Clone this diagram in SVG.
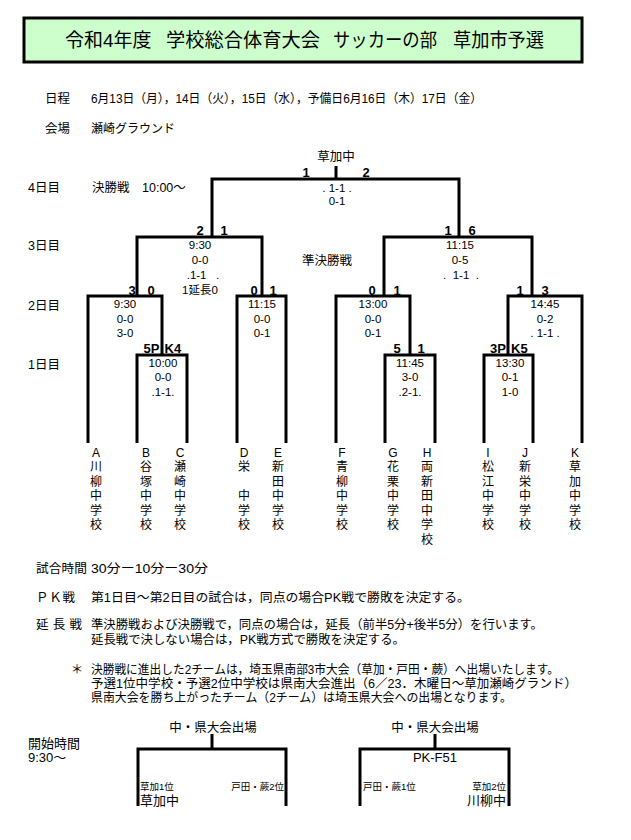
<svg xmlns="http://www.w3.org/2000/svg" width="631" height="840" viewBox="0 0 631 840">
<style>
text{font-family:"Liberation Sans","Noto Sans CJK JP",sans-serif;fill:#000}
.ttl{font-size:19px}
.lb{font-size:12.5px}
.sm{font-size:12px}
.s{font-size:11.5px;text-anchor:middle}
.b{font-size:13px;font-weight:bold;text-anchor:middle}
.be{font-size:13px;font-weight:bold;text-anchor:end}
.bs{font-size:13px;font-weight:bold;text-anchor:start}
.tm{font-size:12px;text-anchor:middle}
.ln{stroke:#000;stroke-width:3;fill:none;stroke-linejoin:miter}
.nt{font-size:12.5px}
.xs{font-size:9.5px}
.md{font-size:13px}
.c{text-anchor:middle}
.e{text-anchor:end}
</style>
<rect width="631" height="840" fill="#fff"/>

<g id="title">
<rect x="24" y="18" width="558" height="44" fill="#ccffcc" stroke="#000" stroke-width="3"/>
<text class="ttl" x="65" y="47">令和4年度</text>
<text class="ttl" x="166" y="47" textLength="154" lengthAdjust="spacingAndGlyphs">学校総合体育大会</text>
<text class="ttl" x="333" y="47" textLength="104" lengthAdjust="spacingAndGlyphs">サッカーの部</text>
<text class="ttl" x="453" y="47" textLength="91" lengthAdjust="spacingAndGlyphs">草加市予選</text>
</g>

<g id="schedule">
<text class="lb" x="45" y="102.5">日程</text>
<text class="lb" x="91" y="102.5" textLength="391" lengthAdjust="spacingAndGlyphs">6月13日（月），14日（火），15日（水），予備日6月16日（木）17日（金）</text>
<text class="lb" x="45" y="132.5">会場</text>
<text class="sm" x="91" y="132.5">瀬崎グラウンド</text>
</g>

<g id="day-labels">
<text class="lb" x="28" y="191.5">4日目</text>
<text class="lb" x="92" y="191.5">決勝戦</text>
<text class="lb" x="142" y="191.5">10:00〜</text>
<text class="lb" x="28" y="249.5">3日目</text>
<text class="lb" x="302" y="264.5">準決勝戦</text>
<text class="lb" x="28" y="309.5">2日目</text>
<text class="lb" x="28" y="368.5">1日目</text>
</g>

<g id="connectors">
<path class="ln" d="M336,166 V179"/>
<path class="ln" d="M212,237 V179 H459 V237"/>
<path class="ln" d="M137,296 V237 H262 V296"/>
<path class="ln" d="M384,296 V237 H532 V296"/>
<path class="ln" d="M88,443 V296 H162 V355"/>
<path class="ln" d="M237,443 V296 H286 V443"/>
<path class="ln" d="M336,443 V296 H410 V355"/>
<path class="ln" d="M508,355 V296 H582 V443"/>
<path class="ln" d="M137,443 V355 H187 V443"/>
<path class="ln" d="M385,443 V355 H435 V443"/>
<path class="ln" d="M484,443 V355 H533 V443"/>
<path class="ln" d="M212,734 V749"/>
<path class="ln" d="M138,806 V749 H286 V806"/>
<path class="ln" d="M435,734 V749"/>
<path class="ln" d="M360,806 V749 H509 V806"/>
</g>

<g id="champion">
<text class="lb c" x="336" y="160.5">草加中</text>
</g>

<g id="final">
<text class="b" x="306" y="176.5">1</text>
<text class="b" x="366" y="176.5">2</text>
<text class="s" x="337" y="192" xml:space="preserve">. 1-1 .</text>
<text class="s" x="337" y="205">0-1</text>
</g>

<g id="sf-left">
<text class="b" x="200" y="234.5">2</text>
<text class="b" x="224" y="234.5">1</text>
<text class="s" x="200" y="249">9:30</text>
<text class="s" x="200" y="264">0-0</text>
<text class="s" x="203" y="279" xml:space="preserve">.1-1   .</text>
<text class="s" x="200" y="294">1延長0</text>
</g>

<g id="sf-right">
<text class="b" x="448" y="234.5">1</text>
<text class="b" x="472" y="234.5">6</text>
<text class="s" x="460" y="249">11:15</text>
<text class="s" x="460" y="264">0-5</text>
<text class="s" x="461" y="279" xml:space="preserve">.  1-1  .</text>
</g>

<g id="qf1">
<text class="b" x="132" y="294.5">3</text>
<text class="b" x="151" y="294.5">0</text>
<text class="s" x="125" y="308">9:30</text>
<text class="s" x="125" y="323">0-0</text>
<text class="s" x="125" y="337">3-0</text>
</g>

<g id="qf2">
<text class="b" x="254" y="294.5">0</text>
<text class="b" x="273" y="294.5">1</text>
<text class="s" x="262" y="308">11:15</text>
<text class="s" x="262" y="323">0-0</text>
<text class="s" x="262" y="337">0-1</text>
</g>

<g id="qf3">
<text class="b" x="372" y="294.5">0</text>
<text class="b" x="397" y="294.5">1</text>
<text class="s" x="373" y="308">13:00</text>
<text class="s" x="373" y="323">0-0</text>
<text class="s" x="373" y="337">0-1</text>
</g>

<g id="qf4">
<text class="b" x="520" y="294.5">1</text>
<text class="b" x="545" y="294.5">3</text>
<text class="s" x="545" y="308">14:45</text>
<text class="s" x="545" y="323">0-2</text>
<text class="s" x="545" y="337" xml:space="preserve">. 1-1 .</text>
</g>

<g id="r1-bc">
<text class="be" x="159.5" y="352.5">5P</text>
<text class="bs" x="164.5" y="352.5">K4</text>
<text class="s" x="163" y="367">10:00</text>
<text class="s" x="163" y="381">0-0</text>
<text class="s" x="163" y="396">.1-1.</text>
</g>

<g id="r1-gh">
<text class="b" x="397" y="352.5">5</text>
<text class="b" x="421" y="352.5">1</text>
<text class="s" x="410" y="367">11:45</text>
<text class="s" x="410" y="381">3-0</text>
<text class="s" x="410" y="396">.2-1.</text>
</g>

<g id="r1-ij">
<text class="be" x="506" y="352.5">3P</text>
<text class="bs" x="511" y="352.5">K5</text>
<text class="s" x="510" y="367">13:30</text>
<text class="s" x="510" y="381">0-1</text>
<text class="s" x="510" y="396">1-0</text>
</g>

<g id="teams">
<g id="team-a"><text class="tm"><tspan x="96" y="456.5">A</tspan><tspan x="96" y="471">川</tspan><tspan x="96" y="485.5">柳</tspan><tspan x="96" y="500">中</tspan><tspan x="96" y="514.5">学</tspan><tspan x="96" y="529">校</tspan></text></g>
<g id="team-b"><text class="tm"><tspan x="146" y="456.5">B</tspan><tspan x="146" y="471">谷</tspan><tspan x="146" y="485.5">塚</tspan><tspan x="146" y="500">中</tspan><tspan x="146" y="514.5">学</tspan><tspan x="146" y="529">校</tspan></text></g>
<g id="team-c"><text class="tm"><tspan x="180" y="456.5">C</tspan><tspan x="180" y="471">瀬</tspan><tspan x="180" y="485.5">崎</tspan><tspan x="180" y="500">中</tspan><tspan x="180" y="514.5">学</tspan><tspan x="180" y="529">校</tspan></text></g>
<g id="team-d"><text class="tm"><tspan x="244" y="456.5">D</tspan><tspan x="244" y="471">栄</tspan><tspan x="244" y="500">中</tspan><tspan x="244" y="514.5">学</tspan><tspan x="244" y="529">校</tspan></text></g>
<g id="team-e"><text class="tm"><tspan x="278" y="456.5">E</tspan><tspan x="278" y="471">新</tspan><tspan x="278" y="485.5">田</tspan><tspan x="278" y="500">中</tspan><tspan x="278" y="514.5">学</tspan><tspan x="278" y="529">校</tspan></text></g>
<g id="team-f"><text class="tm"><tspan x="342" y="456.5">F</tspan><tspan x="342" y="471">青</tspan><tspan x="342" y="485.5">柳</tspan><tspan x="342" y="500">中</tspan><tspan x="342" y="514.5">学</tspan><tspan x="342" y="529">校</tspan></text></g>
<g id="team-g"><text class="tm"><tspan x="393" y="456.5">G</tspan><tspan x="393" y="471">花</tspan><tspan x="393" y="485.5">栗</tspan><tspan x="393" y="500">中</tspan><tspan x="393" y="514.5">学</tspan><tspan x="393" y="529">校</tspan></text></g>
<g id="team-h"><text class="tm"><tspan x="427" y="456.5">H</tspan><tspan x="427" y="471">両</tspan><tspan x="427" y="485.5">新</tspan><tspan x="427" y="500">田</tspan><tspan x="427" y="514.5">中</tspan><tspan x="427" y="529">学</tspan><tspan x="427" y="543.5">校</tspan></text></g>
<g id="team-i"><text class="tm"><tspan x="488" y="456.5">I</tspan><tspan x="488" y="471">松</tspan><tspan x="488" y="485.5">江</tspan><tspan x="488" y="500">中</tspan><tspan x="488" y="514.5">学</tspan><tspan x="488" y="529">校</tspan></text></g>
<g id="team-j"><text class="tm"><tspan x="525" y="456.5">J</tspan><tspan x="525" y="471">新</tspan><tspan x="525" y="485.5">栄</tspan><tspan x="525" y="500">中</tspan><tspan x="525" y="514.5">学</tspan><tspan x="525" y="529">校</tspan></text></g>
<g id="team-k"><text class="tm"><tspan x="575" y="456.5">K</tspan><tspan x="575" y="471">草</tspan><tspan x="575" y="485.5">加</tspan><tspan x="575" y="500">中</tspan><tspan x="575" y="514.5">学</tspan><tspan x="575" y="529">校</tspan></text></g>
</g>

<g id="notes">
<text class="nt" x="36" y="573" textLength="51" lengthAdjust="spacingAndGlyphs">試合時間</text>
<text class="nt" x="91" y="573" textLength="117" lengthAdjust="spacingAndGlyphs">30分ー10分ー30分</text>
<text class="nt" x="36" y="602" textLength="39" lengthAdjust="spacing" xml:space="preserve">Ｐ Ｋ 戦</text>
<text class="nt" x="91" y="602" textLength="379" lengthAdjust="spacingAndGlyphs">第1日目〜第2日目の試合は，同点の場合PK戦で勝敗を決定する。</text>
<text class="nt" x="36" y="628.5" textLength="46" lengthAdjust="spacing" xml:space="preserve">延 長 戦</text>
<text class="nt" x="91" y="628.5" textLength="452" lengthAdjust="spacingAndGlyphs">準決勝戦および決勝戦で，同点の場合は，延長（前半5分+後半5分）を行います。</text>
<text class="nt" x="91" y="643.5" textLength="314" lengthAdjust="spacingAndGlyphs">延長戦で決しない場合は，PK戦方式で勝敗を決定する。</text>
<text class="nt c" x="77" y="673.5">＊</text>
<text class="nt" x="91" y="673.5" textLength="468" lengthAdjust="spacingAndGlyphs">決勝戦に進出した2チームは，埼玉県南部3市大会（草加・戸田・蕨）へ出場いたします。</text>
<text class="nt" x="91" y="687.5" textLength="486" lengthAdjust="spacingAndGlyphs">予選1位中学校・予選2位中学校は県南大会進出（6／23．木曜日〜草加瀬崎グランド）</text>
<text class="nt" x="91" y="701.5" textLength="421" lengthAdjust="spacingAndGlyphs">県南大会を勝ち上がったチーム（2チーム）は埼玉県大会への出場となります。</text>
</g>

<g id="start-time">
<text class="md" x="28" y="748">開始時間</text>
<text class="md" x="28" y="762">9:30〜</text>
</g>

<g id="pref-left">
<text class="lb c" x="213" y="731.5">中・県大会出場</text>
<text class="xs" x="140" y="789.5">草加1位</text>
<text class="xs e" x="284" y="789.5">戸田・蕨2位</text>
<text class="md" x="140" y="805">草加中</text>
</g>

<g id="pref-right">
<text class="lb c" x="435" y="731.5">中・県大会出場</text>
<text class="md c" x="435" y="762">PK-F51</text>
<text class="xs" x="363" y="789.5">戸田・蕨1位</text>
<text class="xs e" x="506" y="789.5">草加2位</text>
<text class="md e" x="506" y="805">川柳中</text>
</g>
</svg>
